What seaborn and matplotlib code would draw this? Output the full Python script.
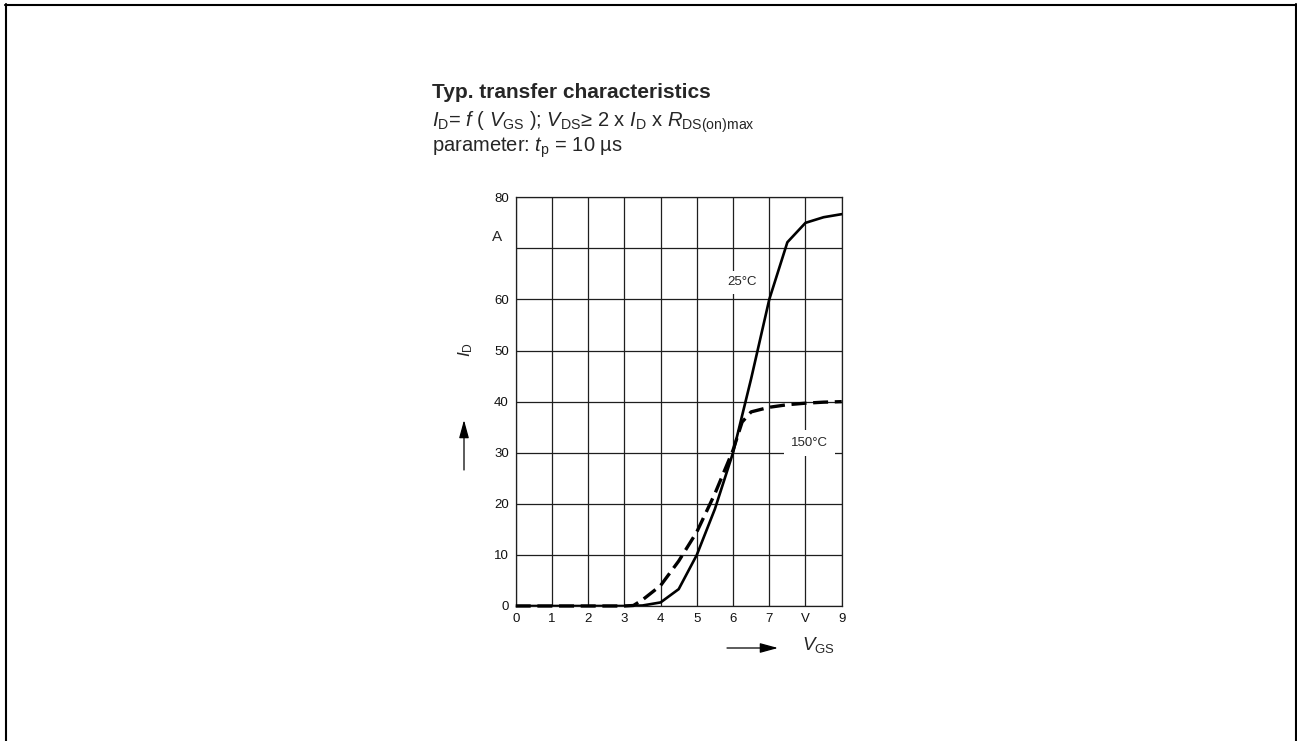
import matplotlib
matplotlib.use("Agg")
import matplotlib.pyplot as plt
import numpy as np
import pandas as pd
import seaborn as sns
from matplotlib.lines import Line2D

# Typical transfer characteristics I_D = f(V_GS)
vgs_25 = [0, 0.5, 1, 1.5, 2, 2.5, 3, 3.5, 4, 4.5, 5, 5.5, 6, 6.5, 7, 7.5, 8, 8.5, 9]
id_25 = [0, 0, 0, 0, 0, 0, 0, 0.1, 0.7, 3.3, 10, 19, 30, 44.5, 60, 71.2, 75, 76.1, 76.7]

vgs_150 = [0, 0.5, 1, 1.5, 2, 2.5, 3, 3.25, 3.5, 4, 4.5, 5, 5.5, 6, 6.25, 6.5, 7, 7.5, 8, 8.5, 9]
id_150 = [0, 0, 0, 0, 0, 0, 0, 0.1, 1.2, 4, 8.8, 14.5, 22, 30.5, 36, 38, 38.9, 39.4, 39.7, 39.9, 40]

temps = ["25°C", "150°C"]
x_ticks = [0, 1, 2, 3, 4, 5, 6, 7, 8, 9]
x_ticklabels = ["0", "1", "2", "3", "4", "5", "6", "7", "V", "9"]
y_ticks = [0, 10, 20, 30, 40, 50, 60, 70, 80]
y_ticklabels = ["0", "10", "20", "30", "40", "50", "60", "", "80"]

df = pd.concat([
    pd.DataFrame({"VGS": vgs_25, "ID": id_25, "T": temps[0]}),
    pd.DataFrame({"VGS": vgs_150, "ID": id_150, "T": temps[1]}),
], ignore_index=True)

sns.set_theme(style="white")
plt.rcParams["font.family"] = ["Liberation Sans", "DejaVu Sans"]
plt.rcParams["mathtext.fontset"] = "custom"
plt.rcParams["mathtext.rm"] = "Liberation Sans"
plt.rcParams["mathtext.it"] = "Liberation Sans:italic"
plt.rcParams["mathtext.bf"] = "Liberation Sans:bold"

W, H = 1297, 741
fig = plt.figure(figsize=(W / 100, H / 100), dpi=100)
fig.patch.set_facecolor("white")

def fx(px):
    return px / W

def fy(py):
    return 1 - py / H

ax = fig.add_axes([fx(515.7), fy(606), fx(841.7) - fx(515.7), fy(197.3) - fy(606)])

sns.lineplot(
    data=df, x="VGS", y="ID", style="T", style_order=temps,
    dashes={temps[0]: "", temps[1]: (4.5, 2.0)},
    color="black", estimator=None, sort=False, legend=False, ax=ax,
)
lines = ax.get_lines()
lines[0].set_linewidth(1.9)
lines[1].set_linewidth(2.4)
lines[1].set_clip_on(False)
for ln in lines:
    ln.set_zorder(3)

ax.set_xlim(0, 9)
ax.set_ylim(0, 80)
ax.set_xticks(x_ticks)
ax.set_xticklabels(x_ticklabels)
ax.set_yticks(y_ticks)
ax.set_yticklabels(y_ticklabels)
ax.set_xlabel("")
ax.set_ylabel("")
ax.grid(True, color="#1e1e1e", lw=0.9)
ax.set_axisbelow(True)
ax.tick_params(length=0, labelsize=9.5, pad=5, colors="#111111")
for sp in ax.spines.values():
    sp.set_color("#1e1e1e")
    sp.set_linewidth(0.9)

# unit and curve annotations
ax.text(-0.52, 72.3, "A", ha="center", va="center", fontsize=11, clip_on=False)
ax.text(6.25, 63.4, temps[0], ha="center", va="center", fontsize=9.5,
        bbox=dict(fc="white", ec="none", pad=4), zorder=4)
ax.text(8.1, 31.9, temps[1], ha="center", va="center", fontsize=9.5,
        bbox=dict(fc="white", ec="none", pad=5), zorder=4)

# heading
fig.text(fx(432), fy(98), "Typ. transfer characteristics", fontsize=15,
         weight="bold", va="baseline", ha="left")
fig.text(fx(432), fy(127),
         r"$I_{\mathrm{D}}$= $f$ ( $V_{\mathrm{GS}}$ ); $V_{\mathrm{DS}}$≥ 2 x $I_{\mathrm{D}}$ x $R_{\mathrm{DS(on)max}}$",
         fontsize=14.5, va="baseline", ha="left")
fig.text(fx(432), fy(152), r"parameter: $t_{\mathrm{p}}$ = 10 µs",
         fontsize=14.5, va="baseline", ha="left")

# axis labels with arrows
fig.text(fx(466), fy(350), r"$I_{\mathrm{D}}$", rotation=90, ha="center",
         va="center", fontsize=12.5)
fig.text(fx(818), fy(645), r"$V_{\mathrm{GS}}$", ha="center", va="center",
         fontsize=13.5)
arrow_style = dict(arrowstyle="-|>,head_length=1.1,head_width=0.3",
                   color="black", lw=0.9, shrinkA=0, shrinkB=0)
ax.annotate("", xy=(464, H - 420), xytext=(464, H - 470),
            xycoords="figure pixels", textcoords="figure pixels",
            arrowprops=arrow_style, fontsize=10)
ax.annotate("", xy=(778, H - 648), xytext=(727, H - 648),
            xycoords="figure pixels", textcoords="figure pixels",
            arrowprops=arrow_style, fontsize=10)

# page frame
frame = dict(transform=fig.transFigure, color="black", lw=1.5)
fig.add_artist(Line2D([fx(5), 1], [fy(5), fy(5)], **frame))
fig.add_artist(Line2D([fx(6), fx(6)], [0, fy(4)], **frame))
fig.add_artist(Line2D([fx(1295.5), fx(1295.5)], [0, fy(4)], **frame))

fig.savefig("out.png", dpi=100)
